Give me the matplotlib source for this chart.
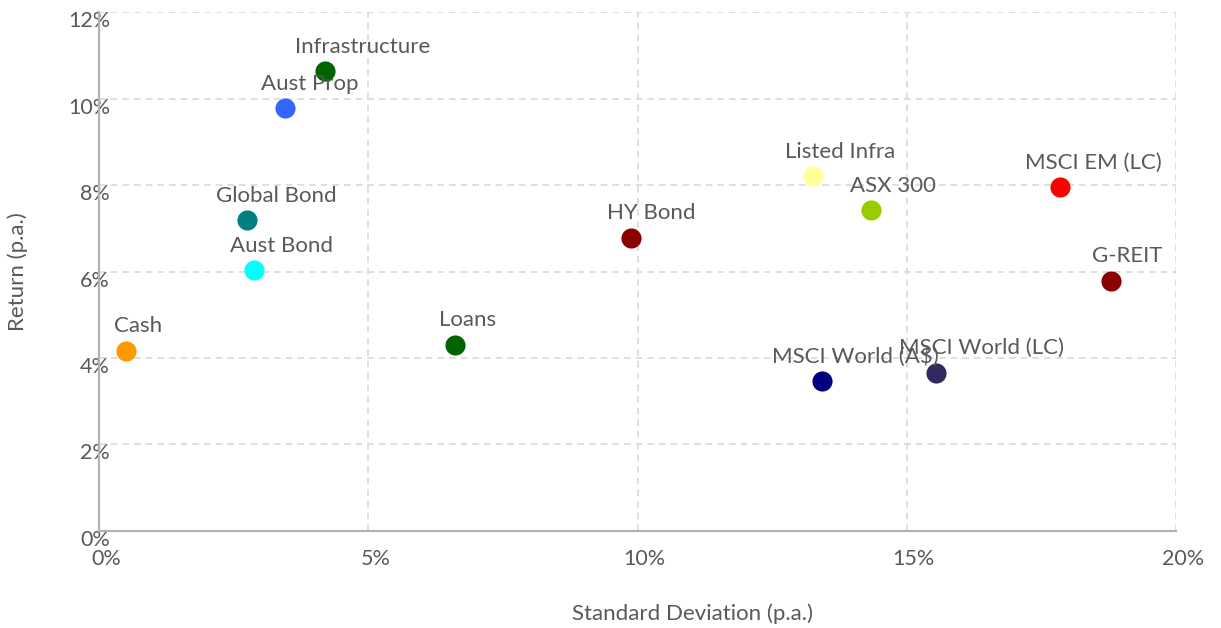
import matplotlib
matplotlib.use("Agg")
import matplotlib.pyplot as plt
import matplotlib.transforms as mtransforms
from matplotlib.ticker import FuncFormatter, MultipleLocator

names = ["Cash", "Global Bond", "Aust Bond", "Aust Prop", "Infrastructure", "Loans",
         "HY Bond", "Listed Infra", "ASX 300", "MSCI World (A$)", "MSCI World (LC)",
         "MSCI EM (LC)", "G-REIT"]
std_dev = [0.50, 2.75, 2.88, 3.45, 4.20, 6.61, 9.88, 13.26, 14.34, 13.43, 15.54, 17.85, 18.79]
returns = [4.17, 7.19, 6.03, 9.78, 10.63, 4.31, 6.78, 8.21, 7.42, 3.47, 3.66, 7.96, 5.79]
colors = ["#FF9900", "#008080", "#00FFFF", "#3366FF", "#006400", "#006400",
          "#8B0000", "#FFFF99", "#99CC00", "#000080", "#33295E", "#FF0000", "#8B0000"]

# label offsets in pixels (dx) relative to each marker
label_dx = [12, 29, 27, 25, 37, 13, 20, 27, 22, 33, 46, 33, 16]

plt.rcParams['font.family'] = ['Lato', 'DejaVu Sans']
text_color = "#595959"

fig = plt.figure(figsize=(12.21, 6.28), dpi=100)
ax = fig.add_axes([99 / 1221, 1 - 530.7 / 628, 1077 / 1221, 518.4 / 628])

for x, y, c in zip(std_dev, returns, colors):
    ax.scatter([x], [y], s=210, color=c, zorder=3, linewidths=0)

for name, x, y, dx in zip(names, std_dev, returns, label_dx):
    ax.annotate(name, (x, y), xytext=(dx * 0.72, 17.5), textcoords="offset points",
                ha="center", va="center", fontsize=16, color=text_color, zorder=4)

ax.set_xlim(0, 20)
ax.set_ylim(0, 12)
ax.xaxis.set_major_locator(MultipleLocator(5))
ax.yaxis.set_major_locator(MultipleLocator(2))
ax.xaxis.set_major_formatter(FuncFormatter(lambda v, p: f"{v:.0f}%"))
ax.yaxis.set_major_formatter(FuncFormatter(lambda v, p: f"{v:.0f}%"))

ax.grid(True, color="#D9D9D9", linestyle=(0, (4, 3)), linewidth=1.2, zorder=0)
ax.set_axisbelow(True)
for s in ["top", "right"]:
    ax.spines[s].set_visible(False)
for s in ["left", "bottom"]:
    ax.spines[s].set_color("#B3B3B3")
    ax.spines[s].set_linewidth(1.6)

ax.tick_params(axis="both", length=0, labelsize=15.5, labelcolor=text_color)
ax.tick_params(axis="x", pad=13.5)
ax.tick_params(axis="y", pad=-8)

# shift labels like Excel
off_y = mtransforms.ScaledTranslation(0, -7 / 100, fig.dpi_scale_trans)
for lab in ax.get_yticklabels():
    lab.set_transform(lab.get_transform() + off_y)
off_x = mtransforms.ScaledTranslation(7 / 100, 0, fig.dpi_scale_trans)
for lab in ax.get_xticklabels():
    lab.set_transform(lab.get_transform() + off_x)

fig.text(692 / 1221, 1 - 614 / 628, "Standard Deviation (p.a.)", ha="center", va="center",
         fontsize=16, color=text_color)
fig.text(18 / 1221, 1 - 272 / 628, "Return (p.a.)", ha="center", va="center",
         rotation=90, fontsize=16, color=text_color)

fig.savefig("out.png", dpi=100, facecolor="white")
